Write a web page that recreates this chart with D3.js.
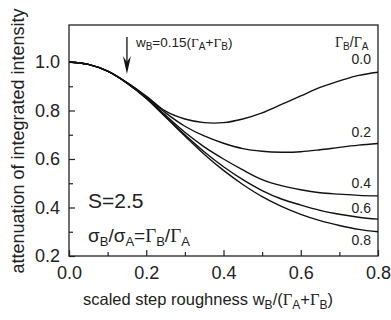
<!doctype html>
<html lang="en">
  <head>
    <meta charset="utf-8" />
    <script src="https://cdn.jsdelivr.net/npm/d3@7/dist/d3.min.js"></script>
    <style>
      body { margin: 0; background: #fff; }
      text { font-family: "Liberation Sans", Arial, sans-serif; fill: #222; }
      .g { font-family: "Liberation Serif", "Times New Roman", serif; }
    </style>
  </head>
  <body>
    <svg id="main" width="391" height="320"></svg>
    <script>
      // scaled step roughness w_B/(Γ_A+Γ_B)
      const xs = [0, 0.05, 0.1, 0.15, 0.2, 0.25, 0.3, 0.35, 0.4, 0.45, 0.5, 0.55, 0.6, 0.65, 0.7, 0.75, 0.8];
      // attenuation for each Γ_B/Γ_A
      const ratios = ['0.0', '0.2', '0.4', '0.6', '0.8'];
      const att00 = [1.0, 0.99, 0.962, 0.915, 0.86, 0.797, 0.765, 0.75, 0.75, 0.765, 0.79, 0.825, 0.86, 0.895, 0.922, 0.945, 0.958];
      const att02 = [1.0, 0.99, 0.962, 0.915, 0.856, 0.79, 0.735, 0.695, 0.665, 0.643, 0.632, 0.628, 0.63, 0.638, 0.648, 0.657, 0.664];
      const att04 = [1.0, 0.99, 0.962, 0.914, 0.853, 0.78, 0.71, 0.65, 0.6, 0.555, 0.515, 0.49, 0.473, 0.461, 0.455, 0.45, 0.448];
      const att06 = [1.0, 0.99, 0.962, 0.913, 0.851, 0.775, 0.7, 0.63, 0.568, 0.515, 0.47, 0.435, 0.41, 0.388, 0.372, 0.36, 0.352];
      const att08 = [1.0, 0.99, 0.962, 0.913, 0.85, 0.773, 0.695, 0.62, 0.553, 0.495, 0.445, 0.405, 0.372, 0.346, 0.326, 0.31, 0.3];
      const series = [att00, att02, att04, att06, att08];
      // label baselines (in data units) next to the right edge
      const labelY = [0.99, 0.69, 0.48, 0.377, 0.245];
      const xTicks = [0, 0.2, 0.4, 0.6, 0.8];
      const yTicks = [0.2, 0.4, 0.6, 0.8, 1.0];
      const xMinor = [0.1, 0.3, 0.5, 0.7];
      const yMinor = [0.3, 0.5, 0.7, 0.9];
      const markX = 0.15;

      const svg = d3.select('#main');
      const m = { left: 69, right: 378, top: 25, bottom: 256 };
      const x = d3.scaleLinear().domain([0, 0.8]).range([m.left, m.right]);
      const y = d3.scaleLinear().domain([0.2, 1.0]).range([m.bottom, 62]);

      // frame
      svg.append('rect')
        .attr('x', m.left).attr('y', m.top)
        .attr('width', m.right - m.left).attr('height', m.bottom - m.top)
        .style('fill', 'none').style('stroke', '#222').style('stroke-width', 1.3);

      const fmt = d3.format('.1f');
      const gx = svg.append('g').attr('transform', `translate(0,${m.bottom})`)
        .call(d3.axisBottom(x).tickValues(xTicks).tickFormat(fmt).tickSizeInner(-6).tickSizeOuter(0).tickPadding(10));
      svg.append('g').attr('transform', `translate(0,${m.bottom})`)
        .call(d3.axisBottom(x).tickValues(xMinor).tickFormat('').tickSizeInner(-4).tickSizeOuter(0));
      svg.append('g').attr('transform', `translate(${m.left},0)`)
        .call(d3.axisLeft(y).tickValues(yTicks).tickFormat(fmt).tickSizeInner(-6).tickSizeOuter(0).tickPadding(9));
      svg.append('g').attr('transform', `translate(${m.left},0)`)
        .call(d3.axisLeft(y).tickValues(yMinor).tickFormat('').tickSizeInner(-4).tickSizeOuter(0));
      svg.selectAll('.domain').remove();
      svg.selectAll('.tick line').style('stroke', '#222').style('stroke-width', 1.2);
      svg.selectAll('.tick text').style('font-size', '18px').style('fill', '#222')
        .style('font-family', '"Liberation Sans", Arial, sans-serif');
      gx.selectAll('.tick text').attr('dy', '0.71em');

      // curves
      const line = d3.line().x((d, i) => x(xs[i])).y(d => y(d)).curve(d3.curveCatmullRom.alpha(0.5));
      svg.append('g').selectAll('path').data(series).join('path')
        .attr('d', line)
        .style('fill', 'none').style('stroke', '#111').style('stroke-width', 1.4);

      // right-hand labels
      svg.append('text').attr('x', 335).attr('y', 47).style('font-size', '14px')
        .html('<tspan class="g">Γ</tspan><tspan font-size="10" dy="3">B</tspan><tspan dy="-3">/</tspan><tspan class="g">Γ</tspan><tspan font-size="10" dy="3">A</tspan>');
      svg.append('g').selectAll('text').data(ratios).join('text')
        .attr('x', 371).attr('y', (d, i) => y(labelY[i]))
        .attr('text-anchor', 'end').style('font-size', '14px')
        .text(d => d);

      // arrow marking w_B = 0.15(Γ_A+Γ_B)
      const ax = x(markX);
      svg.append('line').attr('x1', ax).attr('x2', ax).attr('y1', 37).attr('y2', 70)
        .style('stroke', '#111').style('stroke-width', 1.3);
      svg.append('path').attr('d', `M${ax - 4},56 L${ax},74 L${ax + 4},56 L${ax},62 Z`).style('fill', '#111');
      svg.append('text').attr('x', ax + 9).attr('y', 47).style('font-size', '13.5px')
        .html('w<tspan font-size="10" dy="3">B</tspan><tspan dy="-3">=0.15(</tspan><tspan class="g">Γ</tspan><tspan font-size="10" dy="3">A</tspan><tspan dy="-3">+</tspan><tspan class="g">Γ</tspan><tspan font-size="10" dy="3">B</tspan><tspan dy="-3">)</tspan>');

      // parameters
      svg.append('text').attr('x', 88).attr('y', 208).style('font-size', '21px').text('S=2.5');
      svg.append('text').attr('x', 88).attr('y', 242).style('font-size', '19px')
        .html('σ<tspan font-size="13" dy="4">B</tspan><tspan dy="-4">/σ</tspan><tspan font-size="13" dy="4">A</tspan><tspan dy="-4">=</tspan><tspan class="g">Γ</tspan><tspan font-size="13" dy="4">B</tspan><tspan dy="-4">/</tspan><tspan class="g">Γ</tspan><tspan font-size="13" dy="4">A</tspan>');

      // axis titles
      svg.append('text').attr('transform', 'translate(24,141) rotate(-90)').attr('text-anchor', 'middle')
        .style('font-size', '18px').text('attenuation of integrated intensity');
      svg.append('text').attr('x', 83).attr('y', 305).style('font-size', '16.5px')
        .html('scaled step roughness w<tspan font-size="12" dy="4">B</tspan><tspan dy="-4">/(</tspan><tspan class="g">Γ</tspan><tspan font-size="12" dy="4">A</tspan><tspan dy="-4">+</tspan><tspan class="g">Γ</tspan><tspan font-size="12" dy="4">B</tspan><tspan dy="-4">)</tspan>');
    </script>
  </body>
</html>
